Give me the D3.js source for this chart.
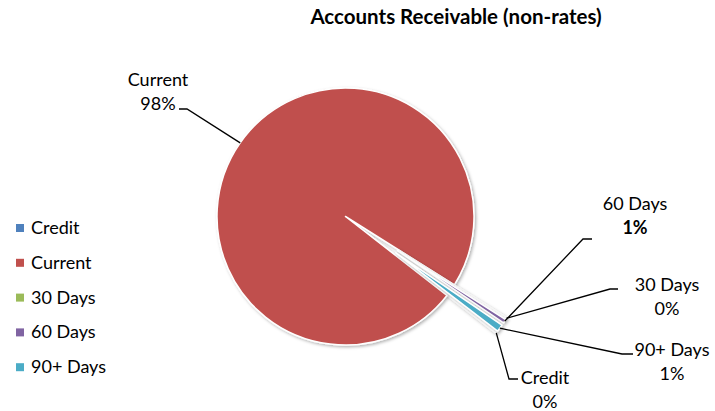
<!DOCTYPE html>
<html lang="en">
<head>
    <meta charset="UTF-8">
    <title>Accounts Receivable (non-rates)</title>
    <script src="https://cdn.jsdelivr.net/npm/d3@7"></script>
    <style>
        body { margin: 0; background: #fff; }
        text { font-family: Lato, "Open Sans", sans-serif; fill: #000; }
    </style>
</head>
<body>
    <svg id="chart" width="715" height="411"></svg>
    <script>
        // data (percent of total)
        const categories = ["Credit", "Current", "30 Days", "60 Days", "90+ Days"];
        const shares = [0.1, 98.4, 0.1, 0.5, 0.9];
        const colours = ["#4F81BD", "#C0504D", "#9BBB59", "#8064A2", "#4BACC6"];
        const exploded = ["Credit", "30 Days", "60 Days", "90+ Days"];
        const boldPercent = ["60 Days"];
        const chartTitle = "Accounts Receivable (non-rates)";

        const svg = d3.select("#chart");
        const cx = 345.5, cy = 216.5, radius = 128.5, explodeBy = 62;
        const firstSliceAngle = 127.5; // degrees, clockwise from 12 o'clock

        // where each data label sits and how its leader bends
        const labelLayout = {
            "Current":  { x: 158, y: 86,  bend: [187, 109], end: [179, 109] },
            "60 Days":  { x: 635, y: 210, bend: [583, 239], end: [592, 239] },
            "30 Days":  { x: 667, y: 291, bend: [610, 289], end: [618, 289] },
            "90+ Days": { x: 672, y: 356, bend: [622, 354], end: [633, 354] },
            "Credit":   { x: 545, y: 384, bend: [509, 379], end: [518, 379] }
        };

        const rows = categories.map((c, i) => ({ name: c, value: shares[i], colour: colours[i] }));
        const total = d3.sum(shares);

        const a0 = firstSliceAngle * Math.PI / 180;
        const pie = d3.pie().sort(null).value(d => d.value)
            .startAngle(a0).endAngle(a0 + 2 * Math.PI);
        const arcs = pie(rows);
        const arc = d3.arc().innerRadius(0).outerRadius(radius);

        const defs = svg.append("defs");
        const shadow = defs.append("filter").attr("id", "shadow")
            .attr("x", "-20%").attr("y", "-20%").attr("width", "140%").attr("height", "140%");
        shadow.append("feDropShadow").attr("dx", 1.5).attr("dy", 1.5)
            .attr("stdDeviation", 1.6).attr("flood-color", "#000").attr("flood-opacity", 0.3);

        // offset of an exploded slice along its bisector
        function offset(d) {
            if (!exploded.includes(d.data.name)) return [0, 0];
            const mid = (d.startAngle + d.endAngle) / 2;
            return [Math.sin(mid) * explodeBy, -Math.cos(mid) * explodeBy];
        }

        const pieG = svg.append("g").attr("transform", `translate(${cx},${cy})`);

        pieG.selectAll("path.slice")
            .data(arcs)
            .enter()
            .append("path")
            .attr("class", "slice")
            .attr("transform", d => `translate(${offset(d)})`)
            .attr("d", arc)
            .attr("fill", d => d.data.colour)
            .attr("stroke", "#fff")
            .attr("stroke-width", 1.5)
            .attr("stroke-linejoin", "round")
            .attr("filter", "url(#shadow)");

        // leader lines: from the slice's outer edge to the label
        const outer = d3.arc().innerRadius(radius).outerRadius(radius);
        const labelG = svg.append("g");

        arcs.forEach(d => {
            const lay = labelLayout[d.data.name];
            const c = outer.centroid(d);
            const o = offset(d);
            const start = [cx + c[0] + o[0], cy + c[1] + o[1]];
            labelG.append("path")
                .attr("d", d3.line()([start, lay.bend, lay.end]))
                .attr("fill", "none")
                .attr("stroke", "#000")
                .attr("stroke-width", 1.3);

            const pct = Math.round(d.data.value / total * 100) + "%";
            const t = labelG.append("text")
                .attr("x", lay.x).attr("y", lay.y)
                .attr("text-anchor", "middle")
                .style("font-size", "18px");
            t.append("tspan").attr("x", lay.x).text(d.data.name);
            t.append("tspan").attr("x", lay.x).attr("dy", 24)
                .style("font-weight", boldPercent.includes(d.data.name) ? "bold" : "normal")
                .text(pct);
        });

        // title
        svg.append("text")
            .attr("x", 456).attr("y", 24)
            .attr("text-anchor", "middle")
            .style("font-size", "20.5px")
            .style("font-weight", "bold")
            .text(chartTitle);

        // legend
        const legend = svg.append("g").attr("transform", "translate(16,228)");
        const legendRow = d3.scaleBand().domain(categories).range([0, 174]);
        const item = legend.selectAll("g")
            .data(rows)
            .enter()
            .append("g")
            .attr("transform", d => `translate(0,${legendRow(d.name)})`);
        item.append("rect")
            .attr("x", 0).attr("y", -4)
            .attr("width", 8).attr("height", 8)
            .attr("fill", d => d.colour);
        item.append("text")
            .attr("x", 15).attr("y", 6)
            .style("font-size", "18px")
            .text(d => d.name);
    </script>
</body>
</html>
